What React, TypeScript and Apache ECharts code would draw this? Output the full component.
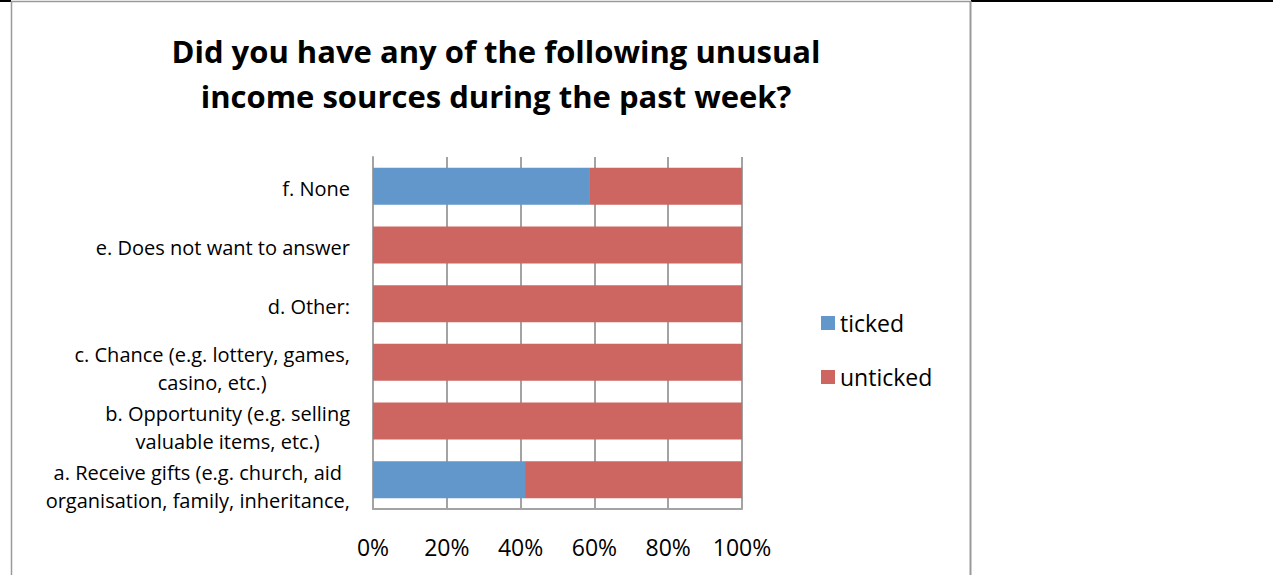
import React, { useEffect, useRef } from "react";
import * as echarts from "echarts";

const TITLE = "Did you have any of the following unusual\nincome sources during the past week?";
const categories = [
  "a. Receive gifts (e.g. church, aid\norganisation, family, inheritance,",
  "b. Opportunity (e.g. selling\nvaluable items, etc.)",
  "c. Chance (e.g. lottery, games,\ncasino, etc.)",
  "d. Other:",
  "e. Does not want to answer",
  "f. None",
];
const ticked = [41.2, 0, 0, 0, 0, 58.8];
const unticked = [58.8, 100, 100, 100, 100, 41.2];
const seriesNames = ["ticked", "unticked"];
const colors = ["#6197CA", "#CD6660"];

const FONT = "Open Sans";

export default function App() {
  const ref = useRef<HTMLDivElement>(null);
  useEffect(() => {
    if (!ref.current) return;
    const chart = echarts.init(ref.current, null, { renderer: "svg" });
    const gray = "#A3A3A3";
    chart.setOption({
      animation: false,
      backgroundColor: "#ffffff",
      title: {
        text: TITLE,
        left: 491,
        textAlign: "center",
        top: 23,
        textStyle: {
          fontFamily: FONT,
          fontWeight: "bold",
          fontSize: 31,
          lineHeight: 45,
          color: "#000",
        },
      },
      legend: {
        orient: "vertical",
        left: 816,
        top: 305,
        itemWidth: 14,
        itemHeight: 14,
        itemGap: 28,
        icon: "rect",
        data: seriesNames,
        textStyle: { fontFamily: FONT, fontSize: 23, lineHeight: 26, color: "#000" },
      },
      grid: { left: 373, right: 531, top: 157, bottom: 66 },
      xAxis: {
        type: "value",
        min: 0,
        max: 100,
        interval: 20,
        axisLine: { show: true, lineStyle: { color: gray, width: 2 } },
        axisTick: { show: false },
        splitLine: { show: true, lineStyle: { color: gray, width: 2 } },
        axisLabel: {
          formatter: "{value}%",
          fontFamily: FONT,
          fontSize: 23,
          color: "#000",
          margin: 26,
        },
      },
      yAxis: {
        type: "category",
        data: categories,
        axisLine: { show: true, lineStyle: { color: gray, width: 2 } },
        axisTick: { show: false },
        splitLine: { show: false },
        axisLabel: {
          interval: 0,
          hideOverlap: false,
          margin: 23,
          align: "right",
          formatter: (v: string) => {
            const lines = v.split("\n");
            if (lines.length === 1) return "{s|" + v + "}";
            return lines.map((l) => "{c|" + l + "}").join("\n");
          },
          rich: {
            s: { fontFamily: FONT, fontSize: 20, lineHeight: 28, color: "#000", padding: [5, 0, 0, 0] },
            c: { fontFamily: FONT, fontSize: 20, lineHeight: 28, color: "#000", align: "center", padding: [13, 0, 0, 0] },
          },
        },
      },
      series: [
        {
          name: seriesNames[0],
          type: "bar",
          stack: "all",
          barWidth: "63%",
          itemStyle: { color: colors[0] },
          data: ticked,
        },
        {
          name: seriesNames[1],
          type: "bar",
          stack: "all",
          barWidth: "63%",
          itemStyle: { color: colors[1] },
          data: unticked,
        },
      ],
      graphic: [
        { type: "line", shape: { x1: 0, y1: 1, x2: 11, y2: 1 }, style: { stroke: "#000", lineWidth: 2 } },
        { type: "line", shape: { x1: 971, y1: 1, x2: 1273, y2: 1 }, style: { stroke: "#000", lineWidth: 2 } },
        { type: "line", shape: { x1: 11, y1: 1.5, x2: 971, y2: 1.5 }, style: { stroke: "#9A9A9A", lineWidth: 1.5 } },
        { type: "line", shape: { x1: 11.5, y1: 1, x2: 11.5, y2: 575 }, style: { stroke: "#9A9A9A", lineWidth: 1.5 } },
        { type: "line", shape: { x1: 970.5, y1: 1, x2: 970.5, y2: 575 }, style: { stroke: "#9A9A9A", lineWidth: 2 } },
      ],
    });
    return () => chart.dispose();
  }, []);
  return (
    <div
      ref={ref}
      style={{ position: "fixed", left: 0, top: 0, width: 1273, height: 575 }}
    />
  );
}
